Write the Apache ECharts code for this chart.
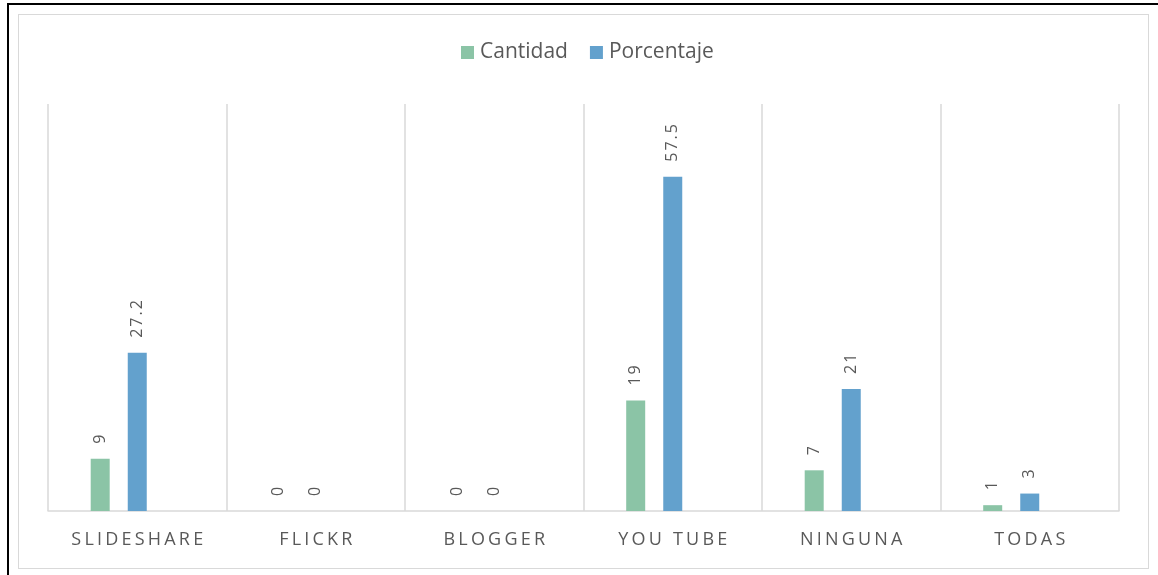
<!DOCTYPE html>
<html>
<head>
<meta charset="utf-8">
<script src="https://cdn.jsdelivr.net/npm/echarts@6/dist/echarts.min.js"></script>
<style>
    html, body { margin: 0; padding: 0; background: #fff; overflow: hidden; }
    #outer { position: absolute; left: 7px; top: 3px; width: 1200px; height: 620px;
             border-left: 2px solid #000; border-top: 2px solid #000; }
    #inner { position: absolute; left: 18px; top: 14px; width: 1129px; height: 553px;
             border: 1px solid #d9d9d9; }
    #chart { position: absolute; left: 0; top: 0; width: 1158px; height: 575px; }
</style>
</head>
<body>
<div id="outer"></div>
<div id="inner"></div>
<div id="chart"></div>
<script>
// datos
const categorias = ["SLIDESHARE", "FLICKR", "BLOGGER", "YOU TUBE", "NINGUNA", "TODAS"];
const cantidad = [9, 0, 0, 19, 7, 1];
const porcentaje = [27.2, 0, 0, 57.5, 21, 3];

const gris = "#595959";
const linea = "#d9d9d9";

// separa letras para imitar el espaciado de Excel
function espaciar(txt) {
    return String(txt).split("").join("{g| }");
}

let chart = echarts.init(document.getElementById("chart"));

let etiqueta = {
    show: true,
    position: "top",
    rotate: 90,
    align: "left",
    verticalAlign: "middle",
    distance: 15,
    color: gris,
    fontFamily: "Open Sans",
    fontSize: 16,
    formatter: p => espaciar(p.value),
    rich: { g: { width: 2, fontSize: 16 } }
};

chart.setOption({
    animation: false,
    legend: {
        data: ["Cantidad", "Porcentaje"],
        left: 461,
        top: 42,
        padding: 0,
        icon: "rect",
        itemWidth: 13,
        itemHeight: 13,
        itemGap: 22,
        textStyle: { color: gris, fontFamily: "Open Sans", fontSize: 21, padding: [0, 0, 0, 1] }
    },
    grid: { left: 48, right: 39, top: 104, bottom: 64 },
    xAxis: {
        type: "category",
        data: categorias,
        axisLine: { lineStyle: { color: linea, width: 1.5 } },
        axisTick: { show: false },
        splitLine: { show: true, interval: 0, lineStyle: { color: linea, width: 1.5 } },
        axisLabel: {
            interval: 0,
            color: gris,
            fontFamily: "Open Sans",
            fontSize: 18,
            margin: 20,
            formatter: v => espaciar(v),
            rich: { g: { width: 3.2, fontSize: 18 } }
        }
    },
    yAxis: { type: "value", min: 0, max: 70, show: false, splitLine: { show: false } },
    series: [
        { name: "Cantidad", type: "bar", data: cantidad, barWidth: 19, barGap: "95%",
          itemStyle: { color: "#8bc4a6" }, label: etiqueta },
        { name: "Porcentaje", type: "bar", data: porcentaje, barWidth: 19, barGap: "95%",
          itemStyle: { color: "#63a1cd" }, label: etiqueta },
        // tercera serie vacía: reserva el hueco a la derecha como en el original
        { name: "vacia", type: "bar", data: categorias.map(() => null), barWidth: 19, barGap: "95%" }
    ]
});
</script>
</body>
</html>
